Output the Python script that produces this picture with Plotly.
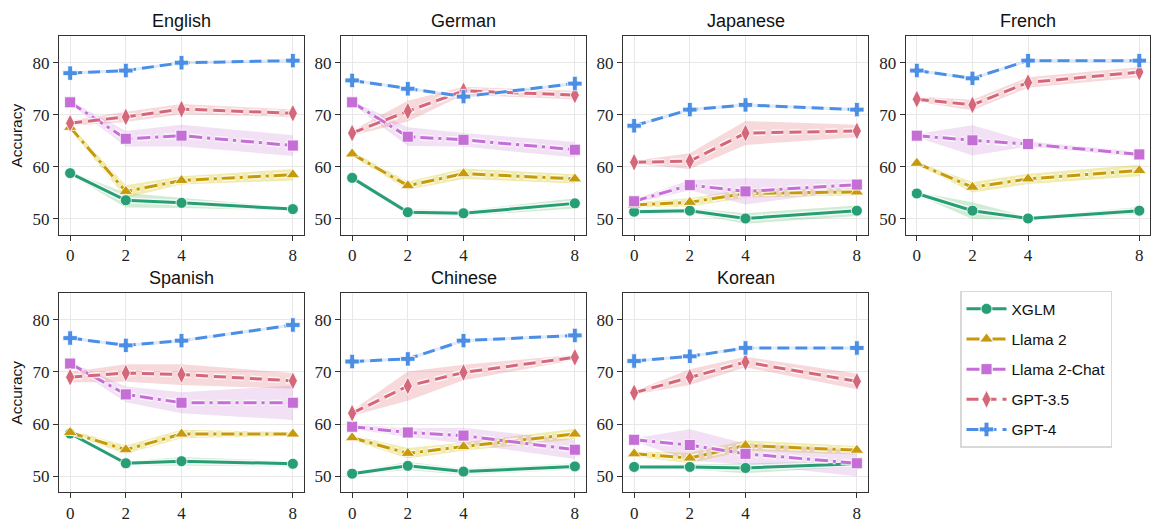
import plotly.graph_objects as go

LANGUAGES = ["English", "German", "Japanese", "French", "Spanish", "Chinese", "Korean"]
SHOTS = [0, 2, 4, 8]
Y_TICKS = [50, 60, 70, 80]
MODELS = ["XGLM", "Llama 2", "Llama 2-Chat", "GPT-3.5", "GPT-4"]

# one row per language (same order as LANGUAGES), one value per shot count
XGLM = [[58.8, 53.6, 53.1, 51.9], [57.9, 51.3, 51.1, 53.0], [51.4, 51.6, 50.1, 51.6],
        [54.9, 51.6, 50.1, 51.6], [58.2, 52.5, 52.9, 52.4], [50.5, 52.0, 50.9, 51.9],
        [51.8, 51.8, 51.6, 52.4]]
XGLM_SD = [[0.3, 1.4, 1.0, 0.3], [0.4, 0.6, 0.5, 1.0], [0.5, 0.5, 1.0, 1.0],
           [0.3, 1.6, 0.3, 0.7], [0.3, 0.4, 0.8, 0.5], [0.3, 0.8, 0.6, 0.6],
           [0.3, 0.5, 1.0, 0.5]]
LLAMA2 = [[67.6, 55.3, 57.4, 58.5], [62.5, 56.4, 58.7, 57.7], [52.7, 53.2, 54.9, 55.2],
          [60.7, 56.1, 57.7, 59.3], [58.4, 55.1, 58.1, 58.1], [57.4, 54.4, 55.7, 58.1],
          [54.3, 53.5, 55.9, 55.0]]
LLAMA2_SD = [[0.5, 1.2, 0.8, 1.1], [0.5, 0.8, 1.0, 0.9], [0.5, 0.8, 0.8, 0.7],
             [0.3, 1.0, 1.0, 1.1], [0.5, 0.8, 0.8, 0.4], [0.5, 1.0, 0.8, 1.0],
             [0.5, 1.0, 1.0, 0.8]]
LLAMA2_CHAT = [[72.4, 65.4, 66.0, 64.1], [72.4, 65.8, 65.2, 63.3], [53.4, 56.5, 55.3, 56.6],
               [66.0, 65.1, 64.4, 62.4], [71.6, 65.7, 64.1, 64.1], [59.5, 58.4, 57.8, 55.1],
               [57.0, 56.0, 54.3, 52.5]]
LLAMA2_CHAT_SD = [[0.3, 1.5, 2.1, 2.0], [0.3, 1.8, 1.3, 1.5], [0.4, 1.0, 2.5, 1.0],
                  [0.3, 2.9, 0.5, 0.5], [0.3, 1.5, 2.0, 3.3], [0.5, 0.8, 1.5, 1.8],
                  [0.3, 3.0, 2.0, 2.5]]
GPT35 = [[68.4, 69.6, 71.1, 70.3], [66.5, 70.7, 74.6, 73.8], [60.9, 61.1, 66.5, 66.9],
         [73.0, 71.9, 76.2, 78.2], [69.0, 69.8, 69.5, 68.3], [62.1, 67.3, 69.9, 72.8],
         [66.0, 69.0, 71.9, 68.2]]
GPT35_SD = [[0.5, 1.0, 1.0, 0.7], [0.5, 2.0, 0.8, 0.8], [0.3, 1.5, 2.3, 1.2],
            [0.5, 1.0, 1.0, 1.0], [1.0, 1.7, 2.0, 1.5], [0.5, 2.8, 1.5, 0.5],
            [0.3, 1.5, 1.0, 1.5]]
GPT4 = [[78.0, 78.5, 80.0, 80.4], [76.6, 75.0, 73.5, 76.0], [67.9, 71.0, 71.9, 71.0],
        [78.5, 77.0, 80.4, 80.4], [76.5, 75.1, 76.0, 79.0], [72.0, 72.5, 76.0, 77.0],
        [72.1, 73.0, 74.6, 74.6]]
GPT4_SD = [[0.3, 0.3, 0.3, 0.3]] * 7

MEANS = [XGLM, LLAMA2, LLAMA2_CHAT, GPT35, GPT4]
SDS = [XGLM_SD, LLAMA2_SD, LLAMA2_CHAT_SD, GPT35_SD, GPT4_SD]

COLORS = ["#279e76", "#c79a0c", "#c46ed6", "#d4677a", "#4a8ee6"]
BAND_COLORS = ["rgba(90,185,100,0.28)", "rgba(215,205,45,0.38)", "rgba(205,130,215,0.25)",
               "rgba(225,105,115,0.25)", "rgba(80,145,230,0.18)"]
SYMBOLS = ["circle", "triangle-up", "square", "diamond-tall", "cross"]
SIZES = [11, 12, 11, 13, 12]
DASHES = ["solid", "13px,5px,3px,5px", "13px,5px,3px,5px", "12px,6px", "12px,6px"]

W, H = 1151, 523
COL_X = [59, 341, 623, 905.7]
PANEL_W = 245
ROW_Y = [(36.7, 236.7), (295.7, 496.0)]

fig = go.Figure()
layout = {}
SANS = "Liberation Sans, Arial, sans-serif"
SERIF = "Liberation Serif, Times New Roman, serif"

for i, lang in enumerate(LANGUAGES):
    row, col = divmod(i, 4)
    xa = "x" if i == 0 else f"x{i+1}"
    ya = "y" if i == 0 else f"y{i+1}"
    x0 = COL_X[col] / W
    x1 = min((COL_X[col] + PANEL_W) / W, 0.9995)
    top, bot = ROW_Y[row]
    y0 = 1 - bot / H
    y1 = 1 - top / H
    axis_common = dict(showline=True, linecolor="#333333", linewidth=1, mirror=True,
                       ticks="outside", ticklen=5, tickcolor="#333333", tickwidth=1,
                       showgrid=True, gridcolor="#e8e8e8", gridwidth=1, zeroline=False,
                       tickfont=dict(family=SERIF, size=17, color="#222222"))
    layout["xaxis" if i == 0 else f"xaxis{i+1}"] = dict(
        domain=[x0, x1], anchor=ya, range=[-0.4, 8.4], tickvals=SHOTS, **axis_common)
    yax = dict(domain=[y0, y1], anchor=xa, range=[46.95, 85.05], tickvals=Y_TICKS, **axis_common)
    if col == 0:
        yax["title"] = dict(text="Accuracy", font=dict(family=SANS, size=15.5, color="#111111"),
                            standoff=6)
    layout["yaxis" if i == 0 else f"yaxis{i+1}"] = yax

    fig.add_annotation(text=lang, xref="paper", yref="paper", x=(x0 + x1) / 2,
                       y=1 - (top - 16) / H, xanchor="center", yanchor="middle",
                       showarrow=False, font=dict(family=SANS, size=18, color="#111111"))

    # bands
    for m in range(len(MODELS)):
        mean = MEANS[m][i]
        sd = SDS[m][i]
        upper = [a + b for a, b in zip(mean, sd)]
        lower = [a - b for a, b in zip(mean, sd)]
        fig.add_trace(go.Scatter(x=SHOTS + SHOTS[::-1], y=upper + lower[::-1], xaxis=xa, yaxis=ya,
                                 fill="toself", fillcolor=BAND_COLORS[m], line=dict(width=0),
                                 mode="lines", showlegend=False, hoverinfo="skip"))
    # lines
    for m, name in enumerate(MODELS):
        mean = MEANS[m][i]
        fig.add_trace(go.Scatter(x=SHOTS, y=mean, xaxis=xa, yaxis=ya, mode="lines",
                                 line=dict(color="rgba(255,255,255,0.75)", width=6, dash=DASHES[m]),
                                 showlegend=False, hoverinfo="skip"))
        fig.add_trace(go.Scatter(x=SHOTS, y=mean, xaxis=xa, yaxis=ya, mode="lines+markers",
                                 name=name, legendgroup=name, showlegend=(i == 0),
                                 line=dict(color=COLORS[m], width=3, dash=DASHES[m]),
                                 marker=dict(symbol=SYMBOLS[m], size=SIZES[m], color=COLORS[m],
                                             line=dict(color="white", width=0.8))))

fig.update_layout(
    width=W, height=H,
    margin=dict(l=0, r=0, t=0, b=0),
    plot_bgcolor="white", paper_bgcolor="white",
    font=dict(family=SANS, color="#111111"),
    legend=dict(x=960 / W, y=1 - 293 / H, xanchor="left", yanchor="top",
                bordercolor="#d9d9d9", borderwidth=1.5, bgcolor="white",
                font=dict(family=SANS, size=15.5, color="#111111"),
                tracegroupgap=7, itemwidth=40),
    **layout,
)

fig.write_html("out.html", config={"displayModeBar": False},
               post_script="document.body.style.margin='0';document.body.style.padding='0';")
